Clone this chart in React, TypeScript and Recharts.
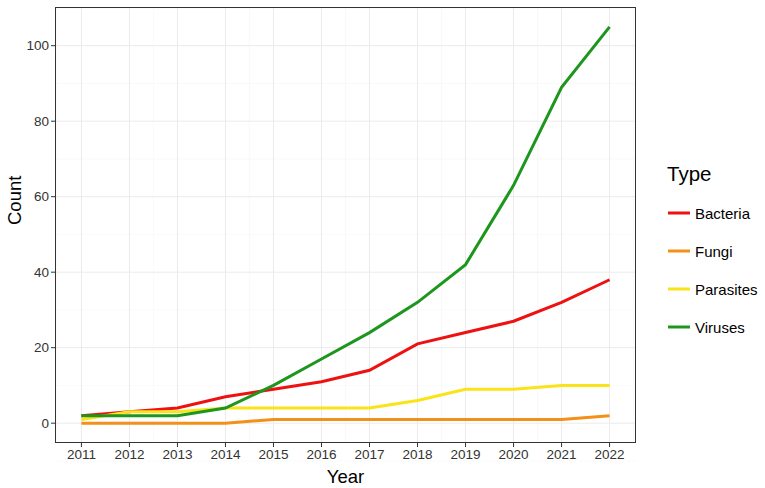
import React from 'react';
import { CartesianGrid, Line, LineChart, XAxis, YAxis } from 'recharts';

const years = [2011, 2012, 2013, 2014, 2015, 2016, 2017, 2018, 2019, 2020, 2021, 2022];
const bacteria = [2, 3, 4, 7, 9, 11, 14, 21, 24, 27, 32, 38];
const fungi = [0, 0, 0, 0, 1, 1, 1, 1, 1, 1, 1, 2];
const parasites = [1, 3, 3, 4, 4, 4, 4, 6, 9, 9, 10, 10];
const viruses = [2, 2, 2, 4, 10, 17, 24, 32, 42, 63, 89, 105];

const yTicks = [0, 20, 40, 60, 80, 100];
const yMinor = [-10, 10, 30, 50, 70, 90, 110];
const xMinor = [2010.5, 2011.5, 2012.5, 2013.5, 2014.5, 2015.5, 2016.5, 2017.5, 2018.5, 2019.5, 2020.5, 2021.5, 2022.5];

const series = [
  { key: 'Bacteria', color: '#ee1111' },
  { key: 'Fungi', color: '#f39018' },
  { key: 'Parasites', color: '#fbe31a' },
  { key: 'Viruses', color: '#1c961c' },
];

const data = years.map((year, i) => ({
  year,
  Bacteria: bacteria[i],
  Fungi: fungi[i],
  Parasites: parasites[i],
  Viruses: viruses[i],
}));

const FONT = '"Liberation Sans", Arial, sans-serif';

// legend drawn beside the panel so it doesn't eat plot width
const TypeLegend = () => (
  <div style={{ position: 'absolute', left: 667, top: 159, fontFamily: FONT, color: '#000' }}>
    <div style={{ fontSize: 20.5, height: 30, lineHeight: '30px', marginBottom: 5 }}>Type</div>
    {series.map(s => (
      <div key={s.key} style={{ display: 'flex', alignItems: 'center', height: 38 }}>
        <svg width={24} height={10} style={{ marginRight: 4 }}>
          <line x1={1} y1={5} x2={23} y2={5} stroke={s.color} strokeWidth={3} />
        </svg>
        <span style={{ fontSize: 15 }}>{s.key}</span>
      </div>
    ))}
  </div>
);

const App: React.FC = () => {
  return (
    <div style={{ position: 'absolute', left: 0, top: 0, width: 765, height: 488, background: '#fff' }}>
      <LineChart width={765} height={488} data={data} margin={{ top: 7, right: 129, bottom: 0, left: 0 }}>
        <CartesianGrid stroke="#f5f5f5" strokeWidth={0.6} horizontalValues={yMinor} verticalValues={xMinor} />
        <CartesianGrid stroke="#ebebeb" strokeWidth={1} horizontalValues={yTicks} verticalValues={years} />
        <XAxis
          dataKey="year"
          type="number"
          domain={[2010.45, 2022.55]}
          ticks={years}
          height={45}
          tick={{ fill: '#333', fontSize: 13.5, fontFamily: FONT }}
          tickLine={{ stroke: '#333' }}
          tickSize={4}
          axisLine={false}
          label={{ value: 'Year', position: 'insideBottom', offset: 5, fill: '#000', fontSize: 18.5, fontFamily: FONT }}
        />
        <YAxis
          type="number"
          domain={[-5.25, 110.25]}
          ticks={yTicks}
          width={55}
          tick={{ fill: '#333', fontSize: 13.5, fontFamily: FONT }}
          tickLine={{ stroke: '#333' }}
          tickSize={4}
          axisLine={false}
          label={{ value: 'Count', angle: -90, position: 'insideLeft', offset: 14, fill: '#000', fontSize: 18.5, fontFamily: FONT }}
        />
        {series.map(s => (
          <Line key={s.key} dataKey={s.key} stroke={s.color} strokeWidth={3} dot={false} activeDot={false} isAnimationActive={false} />
        ))}
      </LineChart>
      <div style={{ position: 'absolute', left: 55, top: 7, width: 581, height: 436, border: '1.5px solid #333', boxSizing: 'border-box', pointerEvents: 'none' }} />
      <TypeLegend />
    </div>
  );
};

export default App;
